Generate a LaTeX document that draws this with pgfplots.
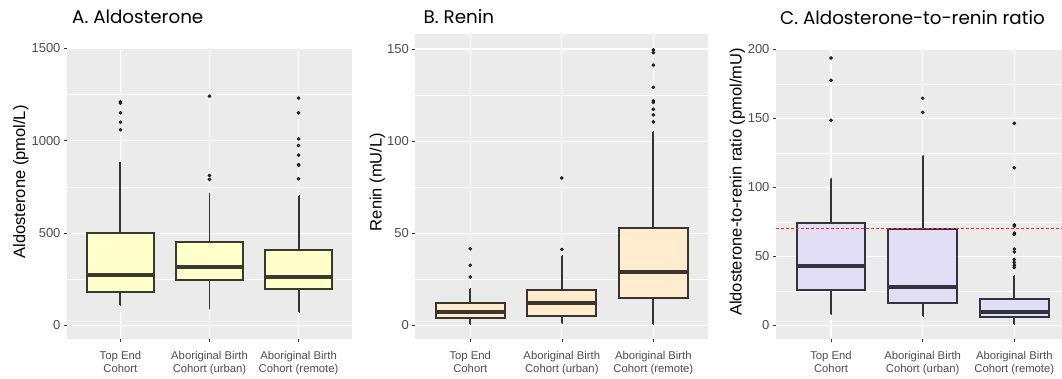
\documentclass[border=0pt]{standalone}
\usepackage{pgfplots}
\pgfplotsset{compat=1.18}
\usepgfplotslibrary{statistics}
\usepackage{fontspec}
\setmainfont{Liberation Sans}
\newfontfamily\titlefont{Poppins}
\definecolor{bg}{HTML}{EBEBEB}
\definecolor{tickc}{HTML}{333333}
\definecolor{ticklab}{HTML}{4D4D4D}
\definecolor{dotc}{HTML}{333333}
\definecolor{fillA}{HTML}{FFFFCC}
\definecolor{lineA}{HTML}{3A3A2C}
\definecolor{fillB}{HTML}{FFEBCD}
\definecolor{lineB}{HTML}{3A342C}
\definecolor{fillC}{HTML}{E1DEF5}
\definecolor{lineC}{HTML}{333340}
\definecolor{refred}{HTML}{FF2A2A}
\pgfplotsset{
 gg/.style={
  scale only axis,
  axis background/.style={fill=bg},
  axis line style={draw=none},
  xmin=0.4, xmax=3.6, xtick={1,2,3},
  xticklabels={{Top End\\Cohort},{Aboriginal Birth\\Cohort (urban)},{Aboriginal Birth\\Cohort (remote)}},
  xticklabel style={align=center, font=\fontsize{11.3}{13.3}\selectfont, text=ticklab, yshift=-5pt},
  yticklabel style={font=\fontsize{13}{15}\selectfont, text=ticklab},
  /pgf/number format/assume math mode=true,
  /pgf/number format/1000 sep={},
  scaled y ticks=false,
  tick align=outside, major tick length=3pt,
  major tick style={color=tickc, line width=0.6pt},
  minor tick style={draw=none},
  tick pos=left,
  xmajorgrids, ymajorgrids, yminorgrids,
  major grid style={white, line width=1.1pt},
  minor grid style={white, line width=0.5pt},
  boxplot/draw direction=y,
 },
 bxs/.style={
  /pgfplots/boxplot/draw direction=y,
  /pgfplots/boxplot/box extend=0.75,
  /pgfplots/boxplot/whisker extend=0.001,
  /pgfplots/boxplot/every box/.style={line width=2pt},
  /pgfplots/boxplot/every median/.style={line width=3.9pt},
  /pgfplots/boxplot/every whisker/.style={line width=1.9pt, draw=tickc}},
 bx/.style={solid, line width=2pt},
 outl/.style={only marks, mark=*, mark size=1.6pt, mark options={fill=dotc, draw=none}},
}
\begin{document}
\begin{tikzpicture}
\path[use as bounding box] (0,0) rectangle (1062pt,379pt);
% Panel A
\begin{axis}[gg, at={(67pt,39.7pt)}, anchor=south west, width=285pt, height=291pt,
  ymin=-75, ymax=1500, ytick={0,500,1000,1500}, minor ytick={250,750,1250}]
\addplot[bx, draw=lineA, fill=fillA, boxplot prepared={/pgfplots/bxs, draw position=1, lower whisker=108, lower quartile=182, median=274, upper quartile=500, upper whisker=882}] coordinates {};
\addplot[bx, draw=lineA, fill=fillA, boxplot prepared={/pgfplots/bxs, draw position=2, lower whisker=94, lower quartile=247, median=314, upper quartile=449, upper whisker=711}] coordinates {};
\addplot[bx, draw=lineA, fill=fillA, boxplot prepared={/pgfplots/bxs, draw position=3, lower whisker=72, lower quartile=199, median=260, upper quartile=410, upper whisker=700}] coordinates {};
\addplot[outl] coordinates {(1,1210) (1,1203) (1,1151) (1,1100) (1,1059)
 (2,1241) (2,812) (2,790)
 (3,1230) (3,1151) (3,1010) (3,974) (3,922) (3,870) (3,866) (3,794)};
\end{axis}
% Panel B
\begin{axis}[gg, at={(415.3pt,39.7pt)}, anchor=south west, width=293pt, height=305pt,
  ymin=-7.6, ymax=158, ytick={0,50,100,150}, minor ytick={25,75,125}]
\addplot[bx, draw=lineB, fill=fillB, boxplot prepared={/pgfplots/bxs, draw position=1, lower whisker=0.5, lower quartile=3.8, median=7.4, upper quartile=12.3, upper whisker=19.9}] coordinates {};
\addplot[bx, draw=lineB, fill=fillB, boxplot prepared={/pgfplots/bxs, draw position=2, lower whisker=1.1, lower quartile=5.0, median=12.3, upper quartile=19.0, upper whisker=37.8}] coordinates {};
\addplot[bx, draw=lineB, fill=fillB, boxplot prepared={/pgfplots/bxs, draw position=3, lower whisker=0.5, lower quartile=14.8, median=28.9, upper quartile=52.7, upper whisker=105.1}] coordinates {};
\addplot[outl] coordinates {(1,41.6) (1,32.6) (1,26.2)
 (2,80) (2,41.2)
 (3,149.5) (3,148) (3,141.3) (3,129.2) (3,121.9) (3,121) (3,117.3) (3,114.3) (3,110.4)};
\end{axis}
% Panel C
\begin{axis}[gg, at={(776pt,39.7pt)}, anchor=south west, width=293.3pt, height=290pt,
  ymin=-10, ymax=200, ytick={0,50,100,150,200}, minor ytick={25,75,125,175}]
\addplot[bx, draw=lineC, fill=fillC, boxplot prepared={/pgfplots/bxs, draw position=1, lower whisker=8, lower quartile=25.4, median=43, upper quartile=73.9, upper whisker=105.8}] coordinates {};
\addplot[bx, draw=lineC, fill=fillC, boxplot prepared={/pgfplots/bxs, draw position=2, lower whisker=7, lower quartile=16.4, median=28, upper quartile=70, upper whisker=122.9}] coordinates {};
\addplot[bx, draw=lineC, fill=fillC, boxplot prepared={/pgfplots/bxs, draw position=3, lower whisker=1.4, lower quartile=5.8, median=9.9, upper quartile=19.3, upper whisker=35.7}] coordinates {};
\addplot[outl] coordinates {(1,193.7) (1,177.5) (1,148.6)
 (2,164.5) (2,154.3)
 (3,146.4) (3,114.2) (3,72.9) (3,72) (3,66.9) (3,65.9) (3,55.3) (3,53.3) (3,47.8) (3,45.6) (3,43.5) (3,42)};
\addplot[refred, line width=0.8pt, dash pattern=on 3pt off 2pt] coordinates {(0.4,70) (3.6,70)};
\end{axis}
% titles and axis labels
\node[inner sep=0pt, anchor=base west, font=\titlefont\fontsize{18.3}{21}\selectfont] at (72pt,355.7pt) {A. Aldosterone};
\node[inner sep=0pt, anchor=base west, font=\titlefont\fontsize{18.3}{21}\selectfont] at (423.5pt,355.7pt) {B. Renin};
\node[inner sep=0pt, anchor=base west, font=\titlefont\fontsize{18.3}{21}\selectfont] at (780pt,354.5pt) {C. Aldosterone-to-renin ratio};
\node[inner sep=0pt, rotate=90, anchor=base, font=\fontsize{16.5}{18}\selectfont] at (25pt,197pt) {Aldosterone (pmol/L)};
\node[inner sep=0pt, rotate=90, anchor=base, font=\fontsize{16.5}{18}\selectfont] at (381.7pt,197pt) {Renin (mU/L)};
\node[inner sep=0pt, rotate=90, anchor=base, font=\fontsize{16.5}{18}\selectfont] at (741.7pt,197pt) {Aldosterone-to-renin ratio (pmol/mU)};
\end{tikzpicture}
\end{document}
